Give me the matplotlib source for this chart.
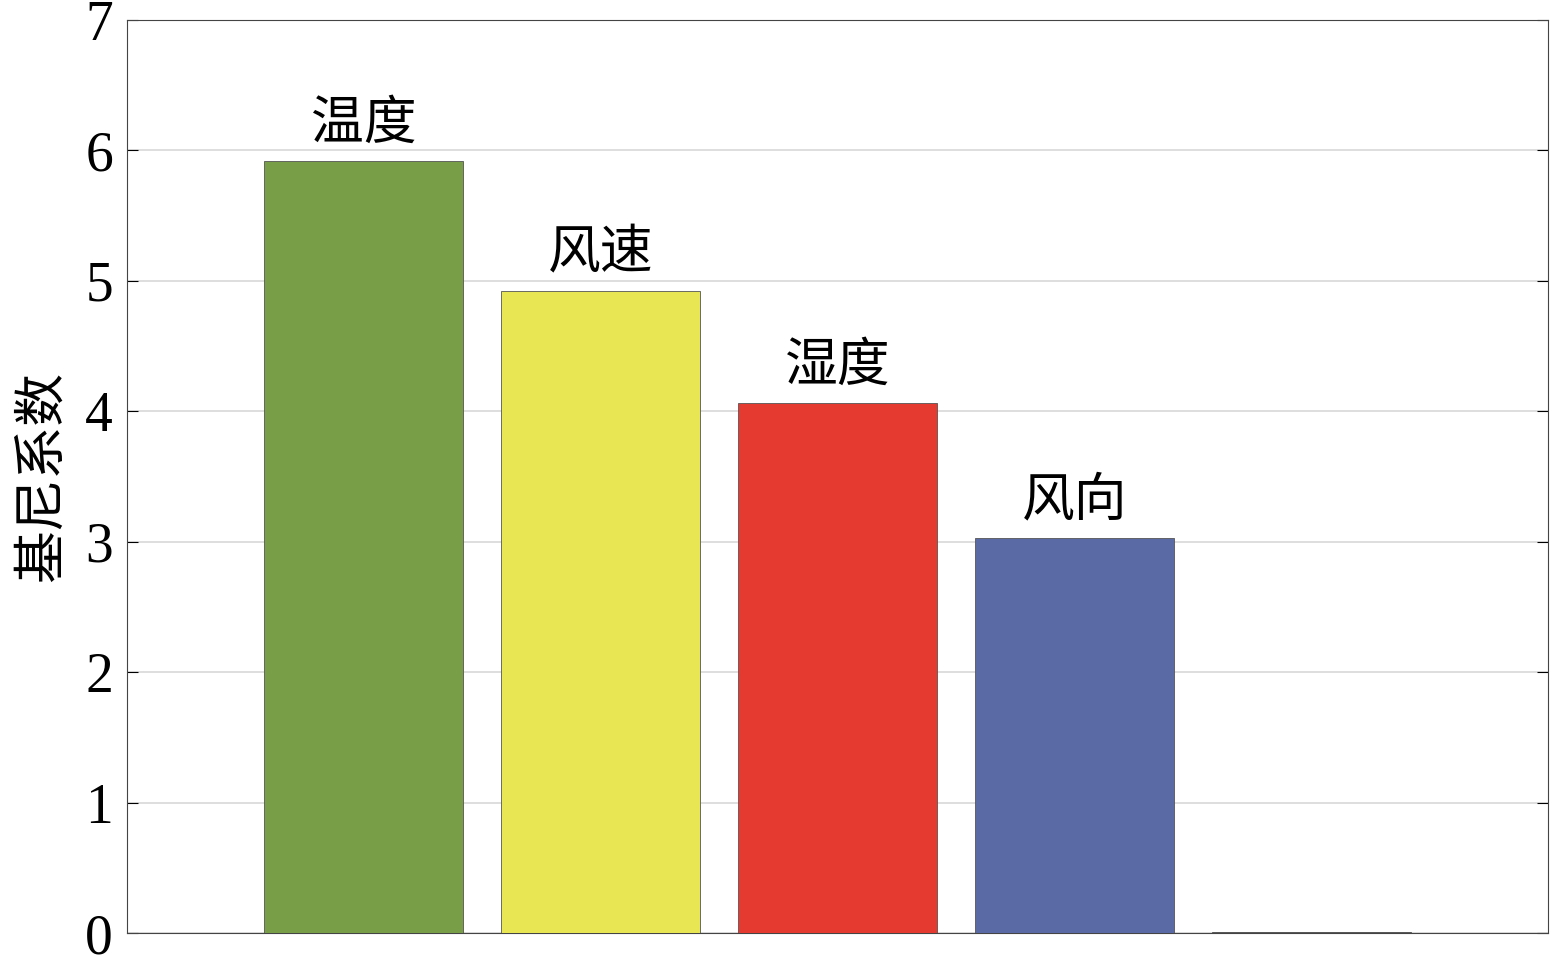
import matplotlib.pyplot as plt

plt.rcParams['font.family'] = ['Liberation Serif', 'Noto Sans CJK SC', 'DejaVu Sans']

labels = ["温度", "风速", "湿度", "风向", ""]
values = [5.92, 4.92, 4.06, 3.03, 0.01]
colors = ["#789e48", "#e8e653", "#e43a2f", "#5a6aa4", "#000000"]

fig = plt.figure(figsize=(15.55, 9.55), dpi=100)
ax = fig.add_axes([127 / 1555, 22 / 955, (1548 - 127) / 1555, (935 - 22) / 955])
x = list(range(1, len(values) + 1))
ax.bar(x, values, width=0.84, color=colors, edgecolor="#555555", linewidth=0.6, zorder=3)
for xi, v, lab in zip(x, values, labels):
    if lab:
        ax.text(xi, v + 0.08, lab, ha="center", va="bottom", fontsize=38,
                family=['Noto Sans CJK SC', 'DejaVu Sans'])

ax.set_xlim(0, 6)
ax.set_ylim(0, 7)
ax.set_yticks(range(8))
ax.set_xticks([])
ax.grid(axis="y", color="#d8d8d8", linewidth=1.2, zorder=0)
ax.tick_params(axis="y", direction="in", length=8, labelsize=40, right=True, pad=10)
for s in ax.spines.values():
    s.set_color("#444444")
ax.set_ylabel("基尼系数", fontsize=38, family=['Noto Sans CJK SC', 'DejaVu Sans'], labelpad=12)
fig.savefig("out.png", dpi=100)
